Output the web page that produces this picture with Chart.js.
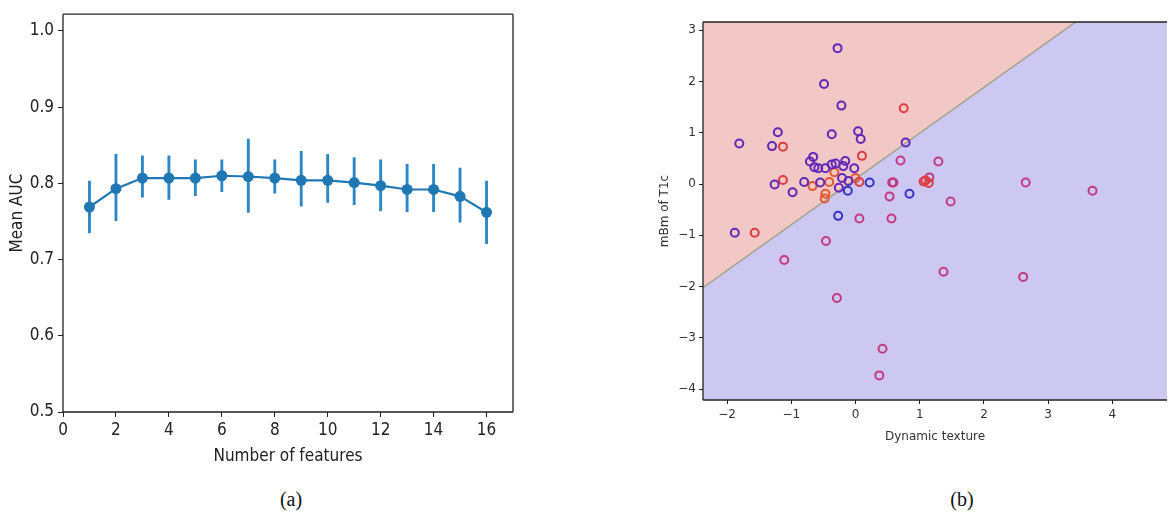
<!DOCTYPE html>
<html>
<head>
<meta charset="utf-8">
<script src="https://cdn.jsdelivr.net/npm/chart.js@4.4.1/dist/chart.umd.min.js"></script>
<style>
  body { margin: 0; background: #fff; width: 1173px; height: 517px; position: relative; overflow: hidden; }
  canvas { position: absolute; top: 0; }
  #left { left: 0; }
  #right { left: 600px; }
  .cap { position: absolute; top: 488px; font-family: "Liberation Serif", "DejaVu Serif", serif; font-size: 20px; color: #111; transform: translateX(-50%); }
</style>
</head>
<body>
<canvas id="left" width="600" height="470"></canvas>
<canvas id="right" width="573" height="470"></canvas>
<div class="cap" style="left:291px">(a)</div>
<div class="cap" style="left:962px">(b)</div>
<script>
// (a) mean AUC vs number of features
const nFeatures = [1, 2, 3, 4, 5, 6, 7, 8, 9, 10, 11, 12, 13, 14, 15, 16];
const meanAuc = [0.769, 0.793, 0.807, 0.807, 0.807, 0.810, 0.809, 0.807, 0.804, 0.804, 0.801, 0.797, 0.792, 0.792, 0.783, 0.762];
const aucLow = [0.735, 0.751, 0.782, 0.779, 0.784, 0.789, 0.762, 0.787, 0.770, 0.775, 0.772, 0.764, 0.763, 0.763, 0.749, 0.721];
const aucHigh = [0.803, 0.838, 0.836, 0.836, 0.831, 0.831, 0.858, 0.831, 0.842, 0.838, 0.834, 0.831, 0.825, 0.825, 0.820, 0.803];

// (b) scatter, grouped by marker colour
const violetX = [-0.28, -0.49, -0.22, -1.21, -0.37, 0.04, 0.08, -1.81, -1.30, 0.78, -0.66, -0.71, -0.64, -0.58, -0.47, -0.37, -0.31, -0.16, -0.19, -0.02, -0.21, -0.11, -0.55, -0.80, -1.26, -0.98, -0.26, -1.88];
const violetY = [2.65, 1.95, 1.53, 1.01, 0.97, 1.03, 0.88, 0.79, 0.74, 0.81, 0.53, 0.44, 0.33, 0.31, 0.31, 0.38, 0.40, 0.45, 0.35, 0.31, 0.12, 0.06, 0.03, 0.04, -0.01, -0.16, -0.07, -0.95];
const blueX = [0.22, -0.12, 0.84, -0.27];
const blueY = [0.03, -0.13, -0.19, -0.62];
const redX = [0.75, -1.13, 0.10, -1.13, 1.06, 1.14, 1.09, -1.57, 0.06];
const redY = [1.48, 0.73, 0.55, 0.08, 0.05, 0.02, 0.07, -0.95, 0.04];
const orangeX = [-0.33, 0.00, -0.41, -0.67, -0.47, -0.48];
const orangeY = [0.23, 0.12, 0.04, -0.04, -0.19, -0.28];
const pinkX = [0.70, 1.29, 0.57, 0.59, 0.53, 1.15, 1.48, 2.65, 3.69, 0.06, 0.56, -0.46, -1.11, 1.37, 2.61, -0.29, 0.42, 0.37];
const pinkY = [0.46, 0.44, 0.03, 0.03, -0.24, 0.13, -0.34, 0.03, -0.13, -0.67, -0.67, -1.11, -1.48, -1.71, -1.81, -2.22, -3.21, -3.73];
const boundaryX = [-2.375, 4.85];
const boundaryY = [-2.02, 4.43];

const pts = (xs, ys) => xs.map((x, i) => ({ x: x, y: ys[i] }));

const framePlugin = {
  id: 'frame',
  afterDraw(chart, args, opts) {
    const { ctx, chartArea: a } = chart;
    ctx.save();
    ctx.strokeStyle = '#222';
    ctx.lineWidth = 1.3;
    ctx.beginPath();
    const sides = opts.sides || 'tlbr';
    if (sides.includes('t')) { ctx.moveTo(a.left, a.top); ctx.lineTo(a.right, a.top); }
    if (sides.includes('l')) { ctx.moveTo(a.left, a.top); ctx.lineTo(a.left, a.bottom); }
    if (sides.includes('b')) { ctx.moveTo(a.left, a.bottom); ctx.lineTo(a.right, a.bottom); }
    if (sides.includes('r')) { ctx.moveTo(a.right, a.top); ctx.lineTo(a.right, a.bottom); }
    ctx.stroke();
    ctx.restore();
  }
};

const tickGrid = (len) => ({ display: true, drawOnChartArea: false, drawTicks: true, tickLength: len, color: '#222', lineWidth: 1, offset: false });
const fontL = { family: 'DejaVu Sans Condensed, DejaVu Sans, sans-serif', size: 17 };
const fontR = { family: 'DejaVu Sans, sans-serif', size: 12 };
const minus = v => (v < 0 ? '\u2212' + Math.abs(v) : String(v));

new Chart(document.getElementById('left').getContext('2d'), {
  type: 'line',
  data: {
    datasets: [{
      type: 'line',
      data: pts(nFeatures, meanAuc),
      borderColor: '#1f77b4',
      backgroundColor: '#1f77b4',
      borderWidth: 2.2,
      pointRadius: 5.5,
      pointBorderWidth: 0,
      order: 0
    }, {
      type: 'bar',
      data: nFeatures.map((x, i) => ({ x: x, y: [aucLow[i], aucHigh[i]] })),
      backgroundColor: '#2a86c4',
      barThickness: 2.2,
      grouped: false,
      order: 1
    }]
  },
  options: {
    responsive: false,
    animation: false,
    layout: { padding: { top: 14, right: 87, left: 0, bottom: 0 } },
    plugins: { legend: { display: false }, tooltip: { enabled: false }, frame: { sides: 'tlbr' } },
    scales: {
      x: {
        type: 'linear', min: 0, max: 17, offset: false,
        ticks: { stepSize: 2, includeBounds: false, font: fontL, color: '#222', padding: 3, maxRotation: 0 },
        grid: tickGrid(5),
        border: { display: false },
        title: { display: true, text: 'Number of features', font: fontL, color: '#222', padding: { top: 0, bottom: 3 } },
        afterFit: s => { s.height = 58; }
      },
      y: {
        type: 'linear', min: 0.5, max: 1.022,
        ticks: { stepSize: 0.1, includeBounds: false, font: fontL, color: '#222', padding: 4, callback: v => v.toFixed(1) },
        grid: tickGrid(5),
        border: { display: false },
        title: { display: true, text: 'Mean AUC', font: fontL, color: '#222', padding: { top: 7, bottom: 0 } },
        afterFit: s => { s.width = 63; }
      }
    }
  },
  plugins: [framePlugin]
});

const ring = (xs, ys, color) => ({
  type: 'scatter',
  data: pts(xs, ys),
  borderColor: color,
  backgroundColor: 'rgba(0,0,0,0)',
  pointRadius: 4,
  pointBorderWidth: 2,
  order: 0
});

new Chart(document.getElementById('right').getContext('2d'), {
  type: 'scatter',
  data: {
    datasets: [
      ring(violetX, violetY, '#6027b8'),
      ring(blueX, blueY, '#3434c4'),
      ring(redX, redY, '#dc3c40'),
      ring(orangeX, orangeY, '#e2582e'),
      ring(pinkX, pinkY, '#c23a80'),
      {
        type: 'line',
        data: pts(boundaryX, boundaryY),
        borderColor: '#a3a48e',
        borderWidth: 1.5,
        backgroundColor: '#f2c8c6',
        fill: 'end',
        pointRadius: 0,
        order: 1
      }, {
        type: 'line',
        data: pts(boundaryX, boundaryY),
        borderWidth: 0,
        backgroundColor: '#cdc8f2',
        fill: 'start',
        pointRadius: 0,
        order: 2
      }
    ]
  },
  options: {
    responsive: false,
    animation: false,
    layout: { padding: { top: 22, right: 0, left: 0, bottom: 0 } },
    plugins: { legend: { display: false }, tooltip: { enabled: false }, frame: { sides: 'tlb' } },
    scales: {
      x: {
        type: 'linear', min: -2.375, max: 4.85,
        ticks: { stepSize: 1, includeBounds: false, font: fontR, color: '#333', padding: 4, maxRotation: 0, callback: minus },
        grid: tickGrid(4),
        border: { display: false },
        title: { display: true, text: 'Dynamic texture', font: fontR, color: '#333', padding: { top: 0, bottom: 26 } },
        afterFit: s => { s.height = 70; }
      },
      y: {
        type: 'linear', min: -4.21, max: 3.16,
        ticks: { stepSize: 1, includeBounds: false, font: fontR, color: '#333', padding: 3, callback: minus },
        grid: tickGrid(4),
        border: { display: false },
        title: { display: true, text: 'mBm of T1c', font: fontR, color: '#333', padding: { top: 58, bottom: 0 } },
        afterFit: s => { s.width = 103; }
      }
    }
  },
  plugins: [framePlugin]
});
</script>
</body>
</html>
